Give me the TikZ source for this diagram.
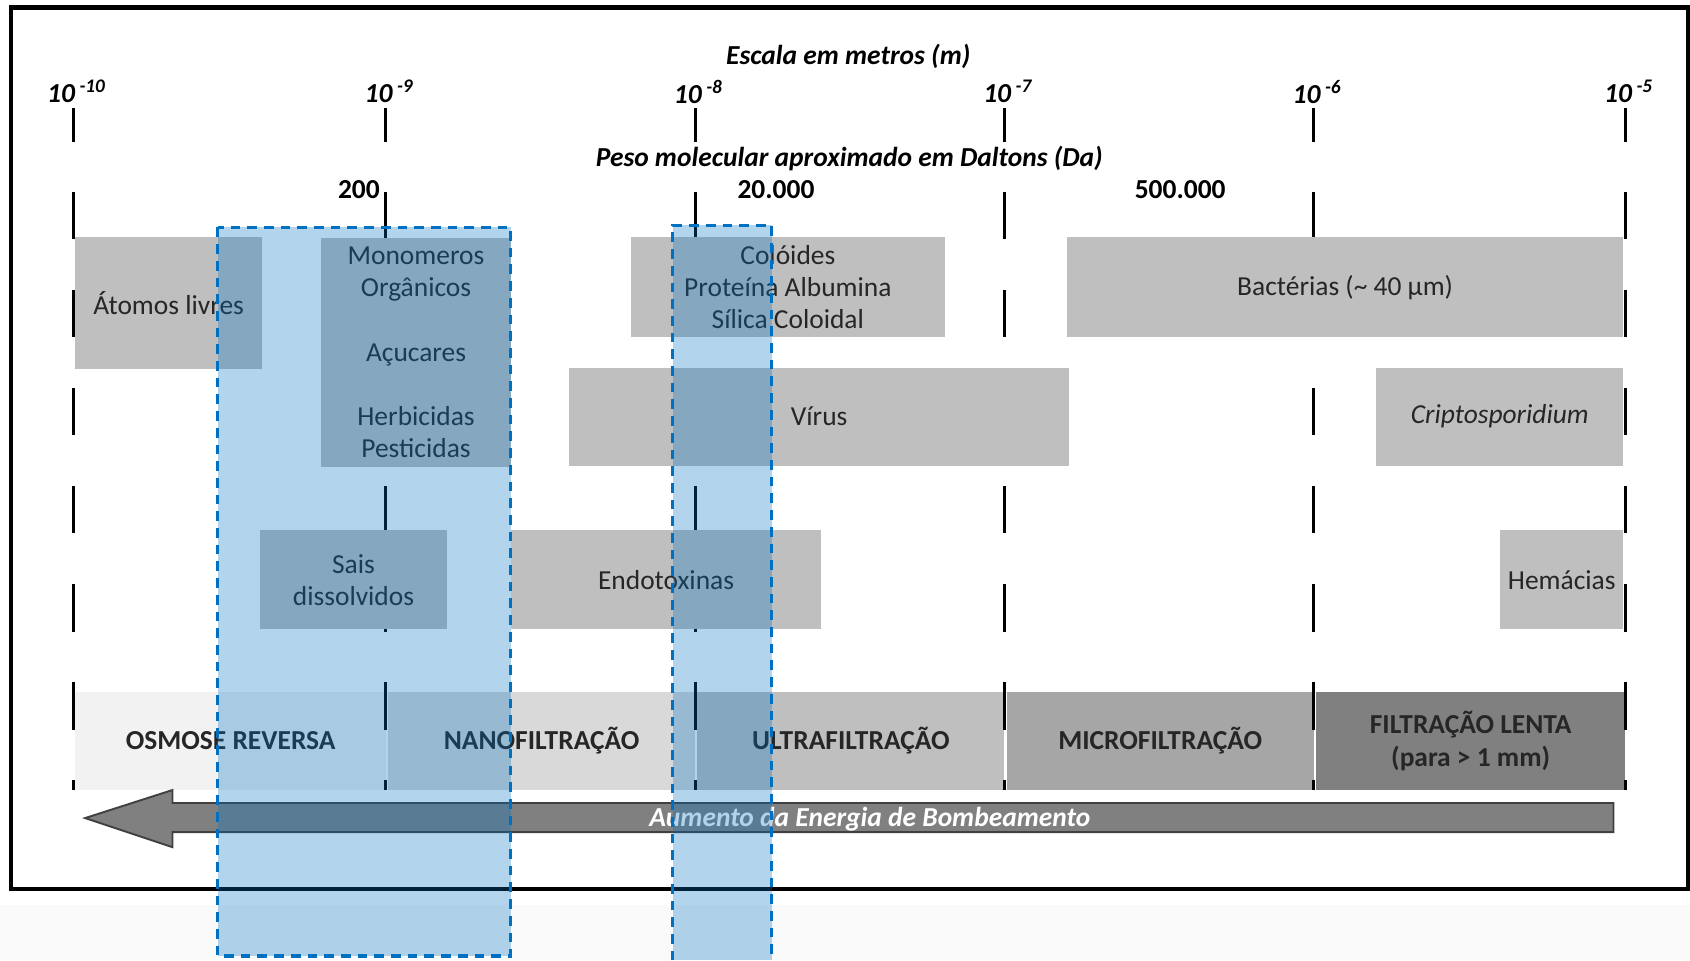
\documentclass[tikz,border=0pt]{standalone}
\usepackage{fontspec}
\setmainfont{Carlito}
\definecolor{boxgray}{HTML}{BFBFBF}
\definecolor{txtgray}{HTML}{262626}
\definecolor{osmgray}{HTML}{F2F2F2}
\definecolor{nanogray}{HTML}{D9D9D9}
\definecolor{microgray}{HTML}{A6A6A6}
\definecolor{lentagray}{HTML}{808080}
\definecolor{memblue}{HTML}{0070C0}

\begin{document}
\begin{tikzpicture}[x=0.02cm,y=-0.02cm,
  every node/.style={inner sep=0pt,text=txtgray,font=\fontsize{14.5}{17}\selectfont},
  axislabel/.style={text=black,font=\fontsize{14.5}{17}\selectfont\bfseries\itshape},
  dalabel/.style={text=black,font=\fontsize{14.5}{17}\selectfont\bfseries},
  partbox/.style={fill=boxgray,align=center},
  band/.style={minimum height=1.82cm,align=center,font=\fontsize{14.5}{17}\selectfont\bfseries},
  poretick/.style={line width=1.7pt},
  scaleline/.style={line width=1.7pt,dash pattern=on 0.88cm off 0.94cm},
  membrane/.style={draw=memblue,line width=1.7pt,dash pattern=on 0.18cm off 0.13cm},
  memfill/.style={fill=memblue,fill opacity=0.3}]
\useasboundingbox (0,0) rectangle (1568,891);
\fill[black!2] (0,840) rectangle (1568,891);
\draw[line width=2.4pt] (10,7) rectangle (1566,825);

\node[axislabel] (escala) at (787,52) {Escala em metros (m)};
\node[axislabel] (peso)   at (788,147) {Peso molecular aproximado em Daltons (Da)};
\node[dalabel]   (da200)  at (333,176) {200};
\node[dalabel]   (da20k)  at (720,176) {20.000};
\node[dalabel]   (da500k) at (1095,176) {500.000};

\node[band,fill=osmgray,minimum width=5.76cm]    (osmose) at (214,687.5)    {OSMOSE REVERSA};
\node[band,fill=nanogray,minimum width=5.7cm]    (nano)   at (502.5,687.5)  {NANOFILTRAÇÃO};
\node[band,fill=boxgray,minimum width=5.7cm]     (ultra)  at (789.5,687.5)  {ULTRAFILTRAÇÃO};
\node[band,fill=microgray,minimum width=5.7cm]   (micro)  at (1076.5,687.5) {MICROFILTRAÇÃO};
\node[band,fill=lentagray,minimum width=5.74cm]  (lenta)  at (1364.5,687.5) {FILTRAÇÃO LENTA\\(para > 1 mm)};

\foreach \x/\lab [count=\i] in {68/-10,358/-9,645/-8,932/-7,1219/-6,1508/-5} {
  \node[axislabel] (exp\i) at (\x+3,85) {10\,\textsuperscript{\lab}};
  \draw[poretick]  (\x,100) -- (\x,132);
  \draw[scaleline] (\x,178) -- (\x,733);
}

\node[partbox,minimum width=3.46cm,minimum height=2.44cm]  (atomos)  at (156.5,281)  {Átomos livres};
\node[partbox,minimum width=3.52cm,minimum height=4.24cm]  (monom)   at (386,327)    {Monomeros\\Orgânicos\\~\\Açucares\\~\\Herbicidas\\Pesticidas};
\node[partbox,minimum width=3.48cm,minimum height=1.84cm]  (sais)    at (328,538)    {Sais\\dissolvidos};
\node[partbox,minimum width=5.76cm,minimum height=1.84cm]  (endo)    at (618,538)    {Endotoxinas};
\node[partbox,minimum width=5.84cm,minimum height=1.86cm]  (coloide) at (731,266.5)  {Colóides\\Proteína Albumina\\Sílica Coloidal};
\node[partbox,minimum width=9.28cm,minimum height=1.82cm]  (virus)   at (760,386.5)  {Vírus};
\node[partbox,minimum width=10.32cm,minimum height=1.86cm] (bact)    at (1248,266.5) {Bactérias (\textasciitilde{} 40 µm)};
\node[partbox,minimum width=4.58cm,minimum height=1.82cm]  (cripto)  at (1391.5,386.5) {\itshape Criptosporidium};
\node[partbox,minimum width=2.28cm,minimum height=1.84cm]  (hemac)   at (1449,538)   {Hemácias};

\draw[fill=lentagray,draw=black!75,line width=1pt] (79,759) -- (160,733) -- (160,745) -- (1497,745)
  -- (1497,772) -- (160,772) -- (160,786) -- cycle;
\node[text=white,font=\fontsize{14.5}{17}\selectfont\bfseries\itshape] (energia) at (807,760) {Aumento da Energia de Bombeamento};

\fill[memfill] (202,211) rectangle (474,887);
\draw[membrane] (202,211) rectangle (474,887);
\fill[memfill] (624,209) rectangle (716,891);
\draw[membrane] (624,891) -- (624,209) -- (716,209) -- (716,891);
\end{tikzpicture}
\end{document}
